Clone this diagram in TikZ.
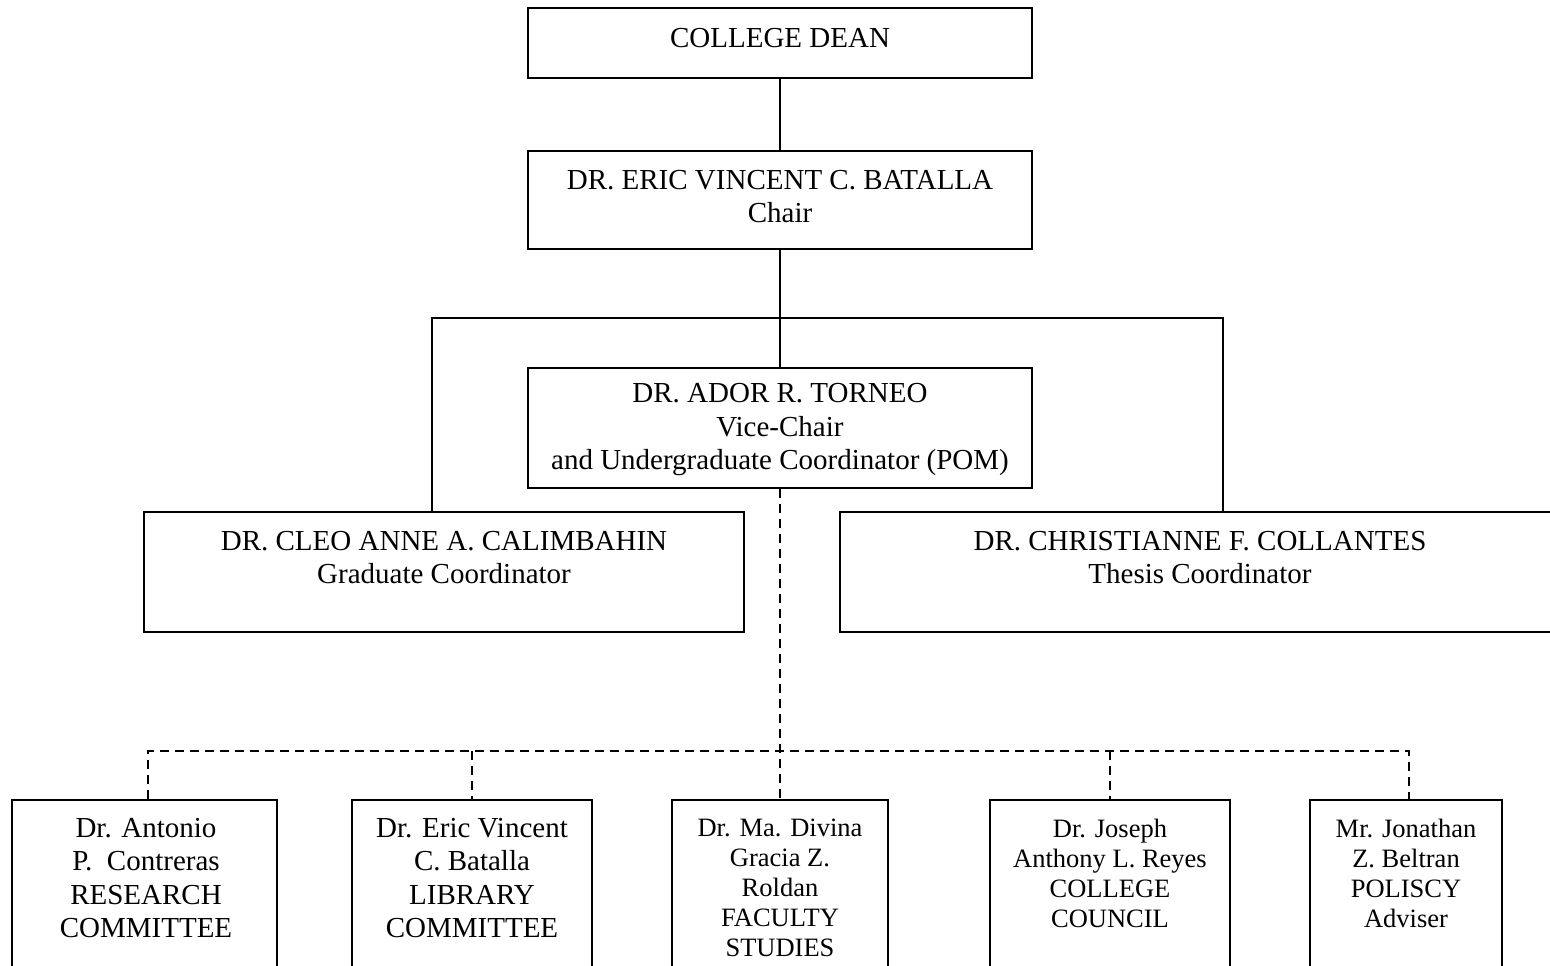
\documentclass[tikz,border=0pt]{standalone}
\usepackage{fontspec}
\setmainfont{Liberation Serif}
\begin{document}
\begin{tikzpicture}[x=1pt,y=-1pt,
  box/.style={draw, line width=1.8pt, rectangle, inner sep=0pt, fill=none},
  txt/.style={align=center, inner sep=0pt, font=\fontsize{29}{33.5}\selectfont},
  stxt/.style={align=center, inner sep=0pt, font=\fontsize{26.5}{30}\selectfont},
  conn/.style={line width=1.8pt},
  dsh/.style={line width=1.8pt, dash pattern=on 9pt off 6pt}]
\useasboundingbox (0,0) rectangle (1550,966);
\clip (0,0) rectangle (1550,966);
% top boxes
\node[box, minimum width=504, minimum height=70] (dean) at (780,43) {};
\node[txt] (deant) at (780,38) {COLLEGE DEAN};
\node[box, minimum width=504, minimum height=98] (bat) at (780,200) {};
\node[txt] (batt) at (780,196.5) {DR. ERIC VINCENT C. BATALLA\\Chair};
\node[box, minimum width=504, minimum height=120] (tor) at (780,428) {};
\node[txt] (tort) at (780,430) {DR. ADOR R. TORNEO\\Vice-Chair\\and Undergraduate Coordinator (POM)};
\node[box, minimum width=600, minimum height=120] (cal) at (444,572) {};
\node[txt] (calt) at (444,557.5) {DR. CLEO ANNE A. CALIMBAHIN\\Graduate Coordinator};
\node[box, minimum width=720, minimum height=120] (col) at (1200,572) {};
\node[txt] (colt) at (1200,557.5) {DR. CHRISTIANNE F. COLLANTES\\Thesis Coordinator};
% bottom boxes
\node[box, minimum width=265, minimum height=200] (b1) at (144.5,900) {};
\node[txt] (b1t) at (146,878) {Dr. Antonio\\P.\ \ Contreras\\RESEARCH\\COMMITTEE};
\node[box, minimum width=240, minimum height=200] (b2) at (472,900) {};
\node[txt] (b2t) at (472,878) {Dr. Eric Vincent\\C. Batalla\\LIBRARY\\COMMITTEE};
\node[box, minimum width=216, minimum height=200] (b3) at (780,900) {};
\node[stxt] (b3t) at (780,887.5) {Dr. Ma. Divina\\Gracia Z.\\Roldan\\FACULTY\\STUDIES};
\node[box, minimum width=240, minimum height=200] (b4) at (1110,900) {};
\node[stxt] (b4t) at (1110,873) {Dr. Joseph\\Anthony L. Reyes\\COLLEGE\\COUNCIL};
\node[box, minimum width=192, minimum height=200] (b5) at (1406,900) {};
\node[stxt] (b5t) at (1406,873) {Mr. Jonathan\\Z. Beltran\\POLISCY\\Adviser};
% solid connectors
\draw[conn] (dean.south) -- (bat.north);
\draw[conn] (bat.south) -- (tor.north);
\coordinate (calj) at (432,318);
\coordinate (colj) at (1223,318);
\draw[conn] (calj |- cal.north) -- (calj) -- (colj) -- (colj |- col.north);
% dashed connectors
\coordinate (dl) at (148,751);
\coordinate (dr) at (1409,751);
\draw[dsh] (tor.south) -- (b3.north);
\draw[dsh] (dl |- b1.north) -- (dl) -- (dr) -- (dr |- b5.north);
\draw[dsh] (b2.north |- dl) -- (b2.north);
\draw[dsh] (b4.north |- dl) -- (b4.north);
\end{tikzpicture}
\end{document}
